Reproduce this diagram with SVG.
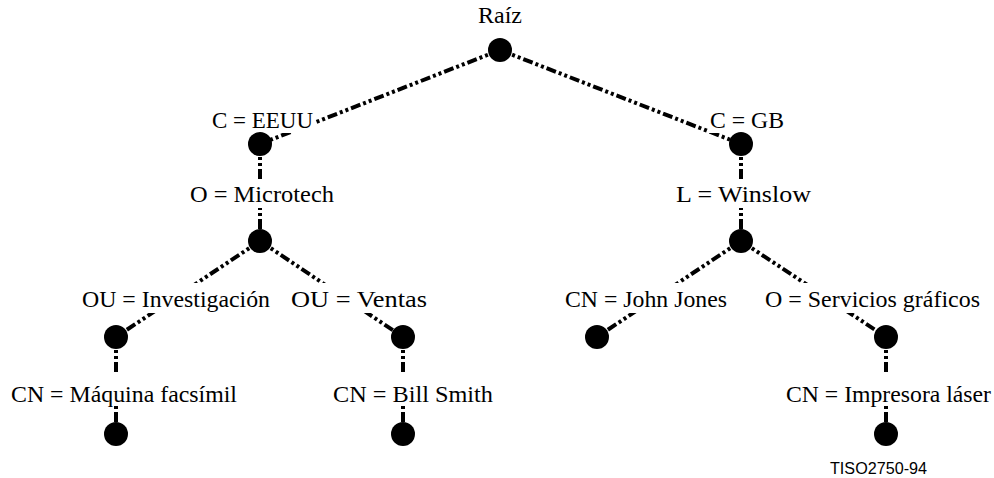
<svg xmlns="http://www.w3.org/2000/svg" width="994" height="478" viewBox="0 0 994 478">
<style>
.c{stroke:#000;stroke-width:4;fill:none;stroke-dasharray:10 3 3 3 3 3}
.n{fill:#000}
.t{font-family:"Liberation Serif","Times New Roman",serif;font-size:23px;fill:#000}
.bg{fill:#fff}
.f{font-family:"Liberation Sans",Arial,sans-serif;font-size:16px;fill:#000}
</style>
<rect width="994" height="478" fill="#fff"/>
<g id="connectors">
<line class="c" x1="500" y1="50" x2="260" y2="144"/>
<line class="c" x1="500" y1="50" x2="741" y2="144"/>
<line class="c" x1="260" y1="144" x2="260" y2="241"/>
<line class="c" x1="741" y1="144" x2="741" y2="241"/>
<line class="c" x1="260" y1="241" x2="116" y2="337"/>
<line class="c" x1="260" y1="241" x2="403" y2="337"/>
<line class="c" x1="741" y1="241" x2="597" y2="337"/>
<line class="c" x1="741" y1="241" x2="886" y2="337"/>
<line class="c" x1="116" y1="337" x2="116" y2="434"/>
<line class="c" x1="403" y1="337" x2="403" y2="434"/>
<line class="c" x1="886" y1="337" x2="886" y2="434"/>
</g>
<g id="root"><text class="t" x="478" y="23" textLength="44" lengthAdjust="spacingAndGlyphs">Raíz</text><circle class="n" cx="500" cy="50" r="12"/></g>
<g id="c-eeuu"><rect class="bg" x="210" y="109" width="105" height="24"/><text class="t" x="212" y="128" textLength="101" lengthAdjust="spacingAndGlyphs">C = EEUU</text><circle class="n" cx="260" cy="144" r="12"/></g>
<g id="c-gb"><rect class="bg" x="708" y="109" width="79" height="24"/><text class="t" x="710" y="128" textLength="74" lengthAdjust="spacingAndGlyphs">C = GB</text><circle class="n" cx="741" cy="144" r="12"/></g>
<g id="o-microtech"><rect class="bg" x="188" y="180" width="148" height="28"/><text class="t" x="190" y="202" textLength="144" lengthAdjust="spacingAndGlyphs">O = Microtech</text><circle class="n" cx="260" cy="241" r="12"/></g>
<g id="l-winslow"><rect class="bg" x="674" y="180" width="139" height="28"/><text class="t" x="676" y="202" textLength="135" lengthAdjust="spacingAndGlyphs">L = Winslow</text><circle class="n" cx="741" cy="241" r="12"/></g>
<g id="ou-investigacion"><rect class="bg" x="80" y="283" width="192" height="30"/><text class="t" x="82" y="307" textLength="188" lengthAdjust="spacingAndGlyphs">OU = Investigación</text><circle class="n" cx="116" cy="337" r="12"/></g>
<g id="ou-ventas"><rect class="bg" x="289" y="283" width="140" height="30"/><text class="t" x="291" y="307" textLength="136" lengthAdjust="spacingAndGlyphs">OU = Ventas</text><circle class="n" cx="403" cy="337" r="12"/></g>
<g id="cn-john-jones"><rect class="bg" x="563" y="283" width="166" height="30"/><text class="t" x="565" y="307" textLength="162" lengthAdjust="spacingAndGlyphs">CN = John Jones</text><circle class="n" cx="597" cy="337" r="12"/></g>
<g id="o-servicios"><rect class="bg" x="763" y="283" width="219" height="30"/><text class="t" x="765" y="307" textLength="215" lengthAdjust="spacingAndGlyphs">O = Servicios gráficos</text><circle class="n" cx="886" cy="337" r="12"/></g>
<g id="cn-maquina"><rect class="bg" x="9" y="372" width="230" height="32"/><text class="t" x="11" y="402" textLength="226" lengthAdjust="spacingAndGlyphs">CN = Máquina facsímil</text><circle class="n" cx="116" cy="434" r="12"/></g>
<g id="cn-bill-smith"><rect class="bg" x="331" y="372" width="164" height="32"/><text class="t" x="333" y="402" textLength="160" lengthAdjust="spacingAndGlyphs">CN = Bill Smith</text><circle class="n" cx="403" cy="434" r="12"/></g>
<g id="cn-impresora"><rect class="bg" x="784" y="372" width="209" height="32"/><text class="t" x="786" y="402" textLength="205" lengthAdjust="spacingAndGlyphs">CN = Impresora láser</text><circle class="n" cx="886" cy="434" r="12"/></g>
<text class="f" x="830" y="474" textLength="97" lengthAdjust="spacingAndGlyphs">TISO2750-94</text>
</svg>
